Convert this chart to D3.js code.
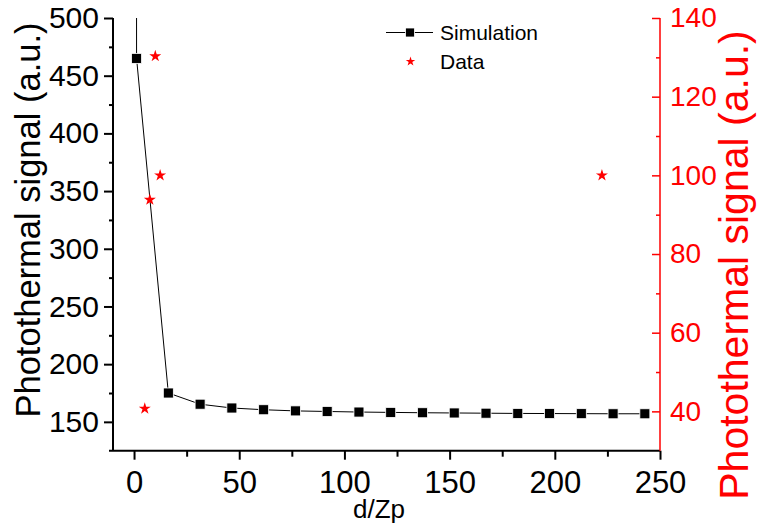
<!DOCTYPE html>
<html><head><meta charset="utf-8">
<script src="https://cdn.jsdelivr.net/npm/d3@7"></script>
<style>
html,body{margin:0;padding:0;background:#fff;}
svg{display:block;font-family:"Liberation Sans",Arial,sans-serif;}
</style></head>
<body>
<svg id="c" width="758" height="528"></svg>
<script>
// Simulation (left axis)
const simX = [1.0, 1.2, 16.3, 31.4, 46.5, 61.6, 76.7, 91.8, 106.9, 122, 137.1, 152.2, 167.3, 182.4, 197.5, 212.6, 227.7, 242.8];
const simY = [2000, 465, 175, 165.3, 162, 160.5, 159.5, 159, 158.5, 158.2, 157.9, 157.7, 157.5, 157.3, 157.2, 157.1, 157, 157];
// Data (right axis)
const dataX = [5.1, 7.5, 10.1, 12.4, 222.4];
const dataY = [40.7, 93.8, 130.3, 100, 100];
const xTicks = [0, 50, 100, 150, 200, 250];
const leftTicks = [150, 200, 250, 300, 350, 400, 450, 500];
const rightTicks = [40, 60, 80, 100, 120, 140];
const xTitle = "d/Zp";
const yTitle = "Photothermal signal (a.u.)";
const legendLabels = ["Simulation", "Data"];

const svg = d3.select("#c");
const L = 113, R = 660, T = 18, B = 450.7;
const x = d3.scaleLinear().domain([-10, 250]).range([L, R]);
const yL = d3.scaleLinear().domain([125, 500]).range([B, T]);
const yR = d3.scaleLinear().domain([30, 140]).range([B, T]);

svg.append("defs").append("clipPath").attr("id","clip")
  .append("rect").attr("x",L).attr("y",T).attr("width",R-L).attr("height",B-T);

const FF = "Liberation Sans, Arial";
// bottom axis
const gx = svg.append("g").attr("transform",`translate(0,${B})`);
gx.call(d3.axisBottom(x).tickValues(xTicks).tickSize(9).tickPadding(11).tickFormat(d3.format("d")));
gx.append("g").call(d3.axisBottom(x).tickValues(d3.range(25,250,50)).tickSize(6).tickFormat(""));
gx.selectAll(".domain").remove();
gx.append("line").attr("x1",L-4).attr("x2",R).attr("stroke","#000").attr("stroke-width",2);
gx.selectAll("line").attr("stroke","#000").attr("stroke-width",2);
gx.selectAll("text").attr("font-size",31).attr("fill","#000").attr("font-family",FF);

// left axis
const gl = svg.append("g").attr("transform",`translate(${L},0)`);
gl.call(d3.axisLeft(yL).tickValues(leftTicks).tickSize(9).tickPadding(5));
gl.append("g").call(d3.axisLeft(yL).tickValues(d3.range(175,500,50)).tickSize(4).tickFormat(""));
gl.selectAll(".domain").remove();
gl.append("line").attr("y1",T).attr("y2",B).attr("stroke","#000").attr("stroke-width",2);
gl.selectAll("line").attr("stroke","#000").attr("stroke-width",2);
gl.selectAll("text").attr("font-size",30).attr("fill","#000").attr("font-family",FF);

// right axis (red)
const gr = svg.append("g").attr("transform",`translate(${R},0)`);
gr.call(d3.axisRight(yR).tickValues(rightTicks).tickSizeInner(-8).tickSizeOuter(0).tickPadding(10));
gr.append("g").call(d3.axisRight(yR).tickValues(d3.range(50,140,20)).tickSizeInner(-4).tickSizeOuter(0).tickFormat(""));
gr.selectAll(".domain").remove();
gr.append("line").attr("y1",T).attr("y2",B).attr("stroke","#ff0000").attr("stroke-width",1.5);
gr.selectAll("line").attr("stroke","#ff0000").attr("stroke-width",1.5);
gr.selectAll("text").attr("font-size",28).attr("fill","#ff0000").attr("font-family",FF);

// titles
svg.append("text").attr("transform",`translate(40,220) rotate(-90)`)
  .attr("text-anchor","middle").attr("font-size",34.5).attr("fill","#000").text(yTitle);
svg.append("text").attr("transform",`translate(748,265) rotate(-90)`)
  .attr("text-anchor","middle").attr("font-size",41).attr("fill","#ff0000").text(yTitle);
svg.append("text").attr("x",379).attr("y",518).attr("text-anchor","middle")
  .attr("font-size",26).attr("fill","#000").text(xTitle);

// simulation
const plot = svg.append("g").attr("clip-path","url(#clip)");
const sim = simX.map((v,i)=>[v, simY[i]]);
plot.append("path").datum(sim).attr("fill","none").attr("stroke","#000").attr("stroke-width",1)
  .attr("d", d3.line().x(d=>x(d[0])).y(d=>yL(d[1])));
const sq = 10;
plot.selectAll("rect.s").data(sim.slice(1)).join("rect")
  .attr("x",d=>x(d[0])-sq/2).attr("y",d=>yL(d[1])-sq/2).attr("width",sq).attr("height",sq)
  .attr("fill","#000").attr("stroke","#fff").attr("stroke-width",0.8);

// data stars
const star = d3.symbol().type(d3.symbolStar).size(45);
const dat = dataX.map((v,i)=>[v, dataY[i]]);
plot.selectAll("path.st").data(dat).join("path")
  .attr("transform",d=>`translate(${x(d[0])},${yR(d[1])})`)
  .attr("d",star).attr("fill","#ff0000");

// legend
const lg = svg.append("g");
lg.append("line").attr("x1",386).attr("x2",433).attr("y1",32.5).attr("y2",32.5).attr("stroke","#000").attr("stroke-width",1);
lg.append("rect").attr("x",410-4.5).attr("y",32.5-4.5).attr("width",9).attr("height",9).attr("fill","#000").attr("stroke","#fff").attr("stroke-width",0.8);
lg.append("text").attr("x",440).attr("y",32.5).attr("dy","0.35em").attr("font-size",21).text(legendLabels[0]);
lg.append("path").attr("transform","translate(410.5,61.5)").attr("d",d3.symbol().type(d3.symbolStar).size(28)).attr("fill","#ff0000");
lg.append("text").attr("x",440).attr("y",61.5).attr("dy","0.35em").attr("font-size",21).text(legendLabels[1]);
</script>
</body></html>
